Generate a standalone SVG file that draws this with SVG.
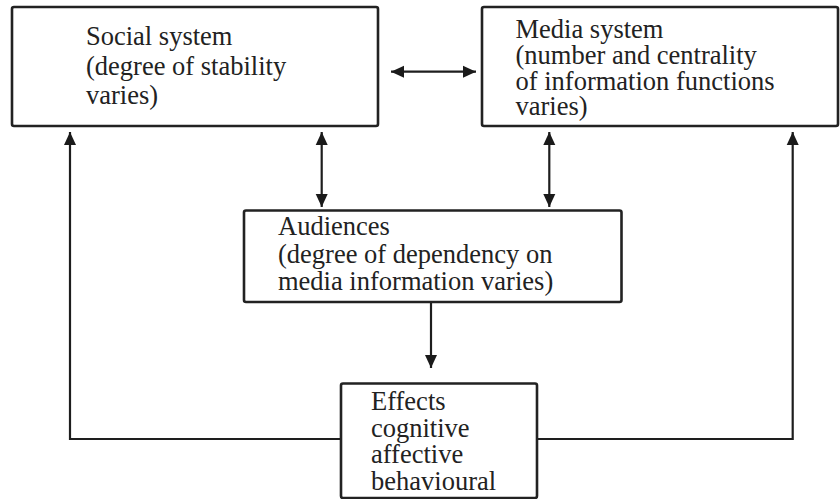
<svg xmlns="http://www.w3.org/2000/svg" width="840" height="499" viewBox="0 0 840 499">
  <defs>
    <marker id="ah" markerUnits="userSpaceOnUse" markerWidth="14" markerHeight="14" viewBox="0 0 14 12" refX="13" refY="6" orient="auto-start-reverse">
      <path d="M0,0 L13,6 L0,12 Z" fill="#1a1a1a"/>
    </marker>
  </defs>
  <style>
    .box { fill: #ffffff; stroke: #222222; stroke-width: 2.6; }
    .lbl { font-size: 26.5px; fill: #222222; }
    .con { fill: none; stroke: #1e1e1e; stroke-width: 2.2; }
  </style>
  <rect width="840" height="499" fill="#ffffff"/>

  <g id="connectors">
    <line class="con" x1="391" y1="71.7" x2="476" y2="71.7" marker-start="url(#ah)" marker-end="url(#ah)"/>
    <line class="con" x1="321.7" y1="132" x2="321.7" y2="207" marker-start="url(#ah)" marker-end="url(#ah)"/>
    <line class="con" x1="549.3" y1="132" x2="549.3" y2="207" marker-start="url(#ah)" marker-end="url(#ah)"/>
    <line class="con" x1="431" y1="302" x2="431" y2="368" marker-end="url(#ah)"/>
    <polyline class="con" points="341,439 70,439 70,132" marker-end="url(#ah)"/>
    <polyline class="con" points="537,439 792.7,439 792.7,132" marker-end="url(#ah)"/>
  </g>

  <g id="social-system" font-family="'Liberation Serif', 'Times New Roman', Tinos, 'DejaVu Serif', serif">
    <rect class="box" x="12" y="7" width="366" height="119" rx="2"/>
    <text class="lbl" x="86" y="45">Social system</text>
    <text class="lbl" x="86" y="74.5">(degree of stability</text>
    <text class="lbl" x="86" y="104">varies)</text>
  </g>

  <g id="media-system" font-family="'Liberation Serif', 'Times New Roman', Tinos, 'DejaVu Serif', serif">
    <rect class="box" x="482" y="7" width="356" height="119" rx="2"/>
    <text class="lbl" x="515.5" y="37.7">Media system</text>
    <text class="lbl" x="515.5" y="64">(number and centrality</text>
    <text class="lbl" x="515.5" y="89.5">of information functions</text>
    <text class="lbl" x="515.5" y="115">varies)</text>
  </g>

  <g id="audiences" font-family="'Liberation Serif', 'Times New Roman', Tinos, 'DejaVu Serif', serif">
    <rect class="box" x="244" y="210.5" width="377.5" height="91.5" rx="2"/>
    <text class="lbl" x="278" y="235">Audiences</text>
    <text class="lbl" x="278" y="263">(degree of dependency on</text>
    <text class="lbl" x="278" y="290">media information varies)</text>
  </g>

  <g id="effects" font-family="'Liberation Serif', 'Times New Roman', Tinos, 'DejaVu Serif', serif">
    <rect class="box" x="341" y="383.5" width="196" height="114.5" rx="2"/>
    <text class="lbl" x="371" y="410">Effects</text>
    <text class="lbl" x="371" y="436.7">cognitive</text>
    <text class="lbl" x="371" y="463.3">affective</text>
    <text class="lbl" x="371" y="490">behavioural</text>
  </g>
</svg>
